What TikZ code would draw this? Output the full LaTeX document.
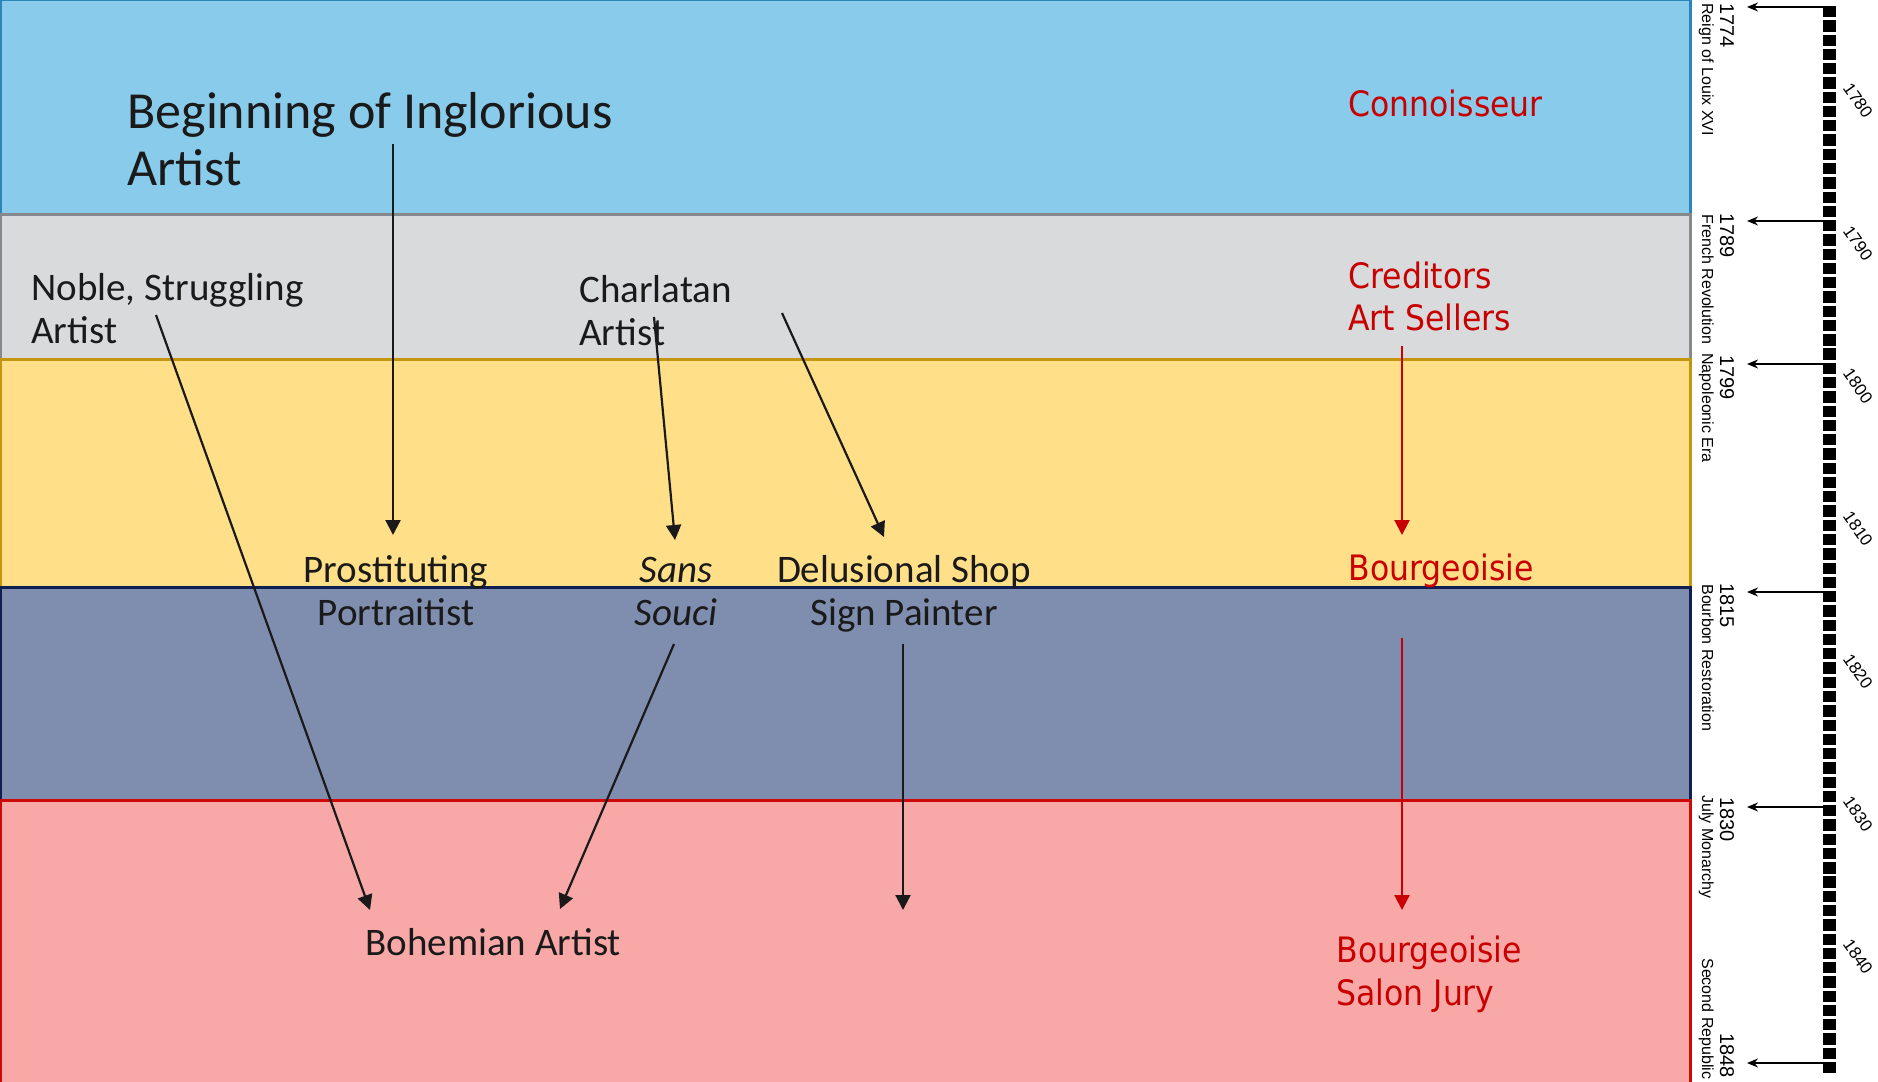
\documentclass[tikz,border=0pt]{standalone}
\usepackage{fontspec}
\setmainfont{Carlito}
\newfontfamily\redfont[FakeStretch=0.9]{DejaVu Sans}
\newfontfamily\arialfont{Liberation Sans}
\usetikzlibrary{arrows.meta}
\definecolor{bluefill}{HTML}{89CBEA}
\definecolor{blueline}{HTML}{2A86B8}
\definecolor{grayfill}{HTML}{D9DADC}
\definecolor{grayline}{HTML}{85888C}
\definecolor{yelfill}{HTML}{FFDF88}
\definecolor{yelline}{HTML}{C4950E}
\definecolor{slatefill}{HTML}{7F8EAF}
\definecolor{slateline}{HTML}{0F1F4F}
\definecolor{pinkfill}{HTML}{F9A8A8}
\definecolor{pinkline}{HTML}{CC0A0A}
\definecolor{txtblack}{HTML}{1A1A1A}
\definecolor{darkred}{HTML}{C80000}
\begin{document}
\begin{tikzpicture}[x=0.5pt,y=-0.5pt,
  band/.style={line width=1.5pt},
  lbl/.style={inner sep=0pt, text=txtblack, font=\fontsize{19.5pt}{21.5pt}\selectfont},
  redlbl/.style={inner sep=0pt, text=darkred, align=left, anchor=base west,
    font=\redfont\fontsize{17.5pt}{21pt}\selectfont},
  conn/.style={draw=txtblack, line width=1.1pt, -{Triangle[length=7.5pt,width=7.5pt]}},
  redconn/.style={conn, draw=darkred},
  era/.style={inner sep=0pt, rotate=-90, anchor=base west, text=black,
    font=\arialfont\fontsize{8pt}{9pt}\selectfont},
  yearlbl/.style={era, font=\arialfont\fontsize{10pt}{11pt}\selectfont},
  decade/.style={inner sep=0pt, rotate=-55, text=black,
    font=\arialfont\fontsize{8.5pt}{9pt}\selectfont},
  yeararrow/.style={draw=black, line width=0.7pt, -{Stealth[length=5.5pt,width=4.5pt]}}
]
\useasboundingbox (0,0) rectangle (1878,1081);
\fill[white] (0,0) rectangle (1878,1081);
\begin{scope}
\clip (0,0) rectangle (1878,1081);
% bands
\draw[band, fill=bluefill, draw=blueline] (0,0) rectangle (1690,214);
\draw[band, fill=grayfill, draw=grayline] (0,214) rectangle (1690,359);
\draw[band, fill=yelfill, draw=yelline] (0,359) rectangle (1690,587);
\draw[band, fill=slatefill, draw=slateline] (0,587) rectangle (1690,800);
\draw[band, fill=pinkfill, draw=pinkline] (0,800) rectangle (1690,1090);

% timeline
\draw[line width=6.5pt, dash pattern=on 5.65pt off 1.485pt] (1829.5,6) -- (1829.5,1074);
\foreach \yr/\yy in {1774/7,1789/221,1799/364,1815/592,1830/807,1848/1063}{
  \coordinate (ts\yr) at (1824,\yy);
  \coordinate (te\yr) at (1747,\yy);
  \draw[yeararrow] (ts\yr) -- (te\yr);
}
\foreach \yr in {1780,1790,1800,1810,1820,1830,1840}{
  \pgfmathsetmacro{\yy}{7+(\yr-1774)*14.27+8}
  \node[decade] (dec\yr) at (1858,\yy) {\yr};
}
% year labels
\node[yearlbl] (y1774) at (1720,3) {1774};
\node[yearlbl] (y1789) at (1720,213) {1789};
\node[yearlbl] (y1799) at (1720,355) {1799};
\node[yearlbl] (y1815) at (1720,583) {1815};
\node[yearlbl] (y1830) at (1720,797) {1830};
\node[yearlbl] (y1848) at (1720,1033) {1848};
% era labels
\node[era] (e1) at (1702,3) {Reign of Louix XVI};
\node[era] (e2) at (1702,214) {French Revolution};
\node[era] (e3) at (1702,353) {Napoleonic Era};
\node[era] (e4) at (1702,584) {Bourbon Restoration};
\node[era] (e5) at (1702,795) {July Monarchy};
\node[era] (e6) at (1702,958) {Second Republic};
\end{scope}

% black labels (anchor = baseline of the last line)
\node[lbl, align=left, anchor=base west, font=\fontsize{26pt}{28.5pt}\selectfont]
  (begin) at (127,185) {Beginning of Inglorious\\Artist};
\node[lbl, align=left, anchor=base west] (noble) at (31,343) {Noble, Struggling\\Artist};
\node[lbl, align=left, anchor=base west] (charl) at (579,345) {Charlatan\\Artist};
\node[lbl, align=center, anchor=base] (prost) at (396,625) {Prostituting\\Portraitist};
\node[lbl, align=center, anchor=base, font=\itshape\fontsize{19.5pt}{21.5pt}\selectfont]
  (sans) at (676,625) {Sans\\Souci};
\node[lbl, align=center, anchor=base] (delus) at (904,625) {Delusional Shop\\Sign Painter};
\node[lbl, anchor=base west] (bohem) at (365,955) {Bohemian Artist};

% red labels
\node[redlbl] (conn) at (1348,117) {Connoisseur};
\node[redlbl] (cred) at (1348,330) {Creditors\\Art Sellers};
\node[redlbl] (bourgA) at (1348,580) {Bourgeoisie};
\node[redlbl, font=\redfont\fontsize{17.5pt}{21.5pt}\selectfont] (bourgB) at (1336,1005) {Bourgeoisie\\Salon Jury};

% connector end points
\coordinate (begin-o) at (393,144);
\coordinate (prost-i) at (393,535);
\coordinate (noble-o) at (156,315);
\coordinate (bohem-iL) at (370,910);
\coordinate (charl-oA) at (654,317);
\coordinate (sans-i) at (675,540);
\coordinate (charl-oB) at (782,313);
\coordinate (delus-i) at (884,537);
\coordinate (sans-o) at (674,644);
\coordinate (bohem-iR) at (560,909);
\coordinate (delus-o) at (903,644);
\coordinate (delus-end) at (903,910);
\coordinate (cred-o) at (1402,346);
\coordinate (bourgA-i) at (1402,535);
\coordinate (bourgA-o) at (1402,638);
\coordinate (bourgB-i) at (1402,910);

\draw[conn] (begin-o) -- (prost-i);
\draw[conn] (noble-o) -- (bohem-iL);
\draw[conn] (charl-oA) -- (sans-i);
\draw[conn] (charl-oB) -- (delus-i);
\draw[conn] (sans-o) -- (bohem-iR);
\draw[conn] (delus-o) -- (delus-end);
\draw[redconn] (cred-o) -- (bourgA-i);
\draw[redconn] (bourgA-o) -- (bourgB-i);
\end{tikzpicture}
\end{document}
